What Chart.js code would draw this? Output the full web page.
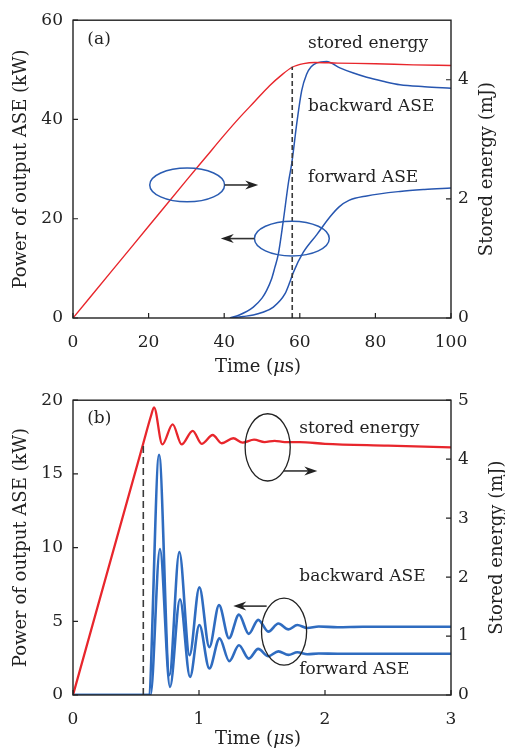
<!DOCTYPE html>
<html>
<head>
<meta charset="utf-8">
<script src="https://cdn.jsdelivr.net/npm/chart.js@4/dist/chart.umd.min.js"></script>
<style>
  body { margin: 0; background: #fff; }
  canvas { display: block; }
</style>
</head>
<body>
<canvas id="chartA" width="505" height="380"></canvas>
<canvas id="chartB" width="505" height="373"></canvas>
<script>
// ---- panel (a): 0-100 us ----
const timeTicksA = [0, 20, 40, 60, 80, 100];
const powerTicksA = [0, 20, 40, 60];
const energyTicksA = [0, 2, 4];

const storedTimeA = [0, 10, 20, 30, 35, 40, 44, 48, 52, 55, 58, 61, 64, 70, 80, 90, 100];
const storedEnergyA = [0, 0.77, 1.54, 2.31, 2.69, 3.07, 3.36, 3.63, 3.90, 4.07, 4.21, 4.27, 4.29, 4.28, 4.27, 4.25, 4.24];

const backwardTimeA = [41.5, 44, 47.7, 50, 51.2, 52.5, 53.4, 54.3, 55.6, 57.0, 57.9, 59.2, 60.5, 61.8, 63, 64.5, 67.1, 70.6, 74, 77.7, 82, 86.5, 93, 100];
const backwardPowerA = [0, 0.6, 2.2, 4.0, 5.5, 7.8, 10.2, 12.8, 19.4, 27.3, 31.3, 39.2, 45.8, 49.1, 50.6, 51.4, 51.7, 50.4, 49.4, 48.5, 47.7, 47.0, 46.6, 46.3];

const forwardTimeA = [42, 45, 47.7, 50, 53.0, 56.1, 57.4, 58.3, 60.9, 64.5, 68.0, 70.4, 73.0, 77.7, 86.5, 93, 100];
const forwardPowerA = [0, 0.3, 0.6, 1.1, 2.2, 4.9, 7.3, 9.2, 13.2, 16.8, 20.4, 22.4, 23.7, 24.6, 25.5, 25.9, 26.2];

const markerTimeA = [58, 58];
const markerEnergyA = [0, 4.22];

// ---- panel (b): 0-3 us ----
const timeTicksB = [0, 1, 2, 3];
const powerTicksB = [0, 5, 10, 15, 20];
const energyTicksB = [0, 1, 2, 3, 4, 5];

const storedTimeB = [0, 0.558, 0.62, 0.643, 0.709, 0.791, 0.862, 0.95, 1.021, 1.109, 1.18, 1.272, 1.346, 1.437, 1.52, 1.60, 1.68, 1.8, 2.0, 2.5, 3.0];
const storedEnergyB = [0, 4.27, 4.74, 4.88, 4.25, 4.59, 4.25, 4.48, 4.26, 4.41, 4.27, 4.355, 4.28, 4.33, 4.29, 4.31, 4.29, 4.29, 4.26, 4.23, 4.20];

const backwardTimeB = [0, 0.6, 0.683, 0.765, 0.844, 0.925, 1.003, 1.082, 1.159, 1.238, 1.317, 1.395, 1.47, 1.55, 1.63, 1.71, 1.78, 1.86, 1.95, 2.1, 2.3, 3.0];
const backwardPowerB = [0, 0, 16.3, 1.35, 9.7, 2.7, 7.3, 3.25, 6.1, 3.85, 5.45, 4.15, 5.1, 4.3, 4.85, 4.45, 4.75, 4.55, 4.65, 4.6, 4.63, 4.63];

const forwardTimeB = [0, 0.615, 0.69, 0.77, 0.849, 0.929, 1.003, 1.082, 1.163, 1.24, 1.317, 1.395, 1.47, 1.55, 1.63, 1.71, 1.78, 1.86, 1.95, 2.1, 3.0];
const forwardPowerB = [0, 0, 9.9, 0.55, 6.5, 1.23, 4.75, 1.8, 3.84, 2.3, 3.38, 2.47, 3.13, 2.63, 2.96, 2.72, 2.9, 2.76, 2.82, 2.80, 2.80];

const markerTimeB = [0.558, 0.558];
const markerEnergyB = [0, 4.27];

const FONT = 'DejaVu Serif';
const INK = '#222';
const RED = '#e8262c';

Chart.defaults.font.family = FONT;
Chart.defaults.font.size = 17;
Chart.defaults.color = INK;

const pairs = (xs, ys) => xs.map((x, i) => ({ x: x, y: ys[i] }));

function curve(xs, ys, color, width, axis) {
    return {
        data: pairs(xs, ys),
        borderColor: color,
        borderWidth: width,
        yAxisID: axis,
        pointRadius: 0,
        cubicInterpolationMode: 'monotone',
        borderJoinStyle: 'round',
        fill: false
    };
}

function marker(xs, ys, dash) {
    return {
        data: pairs(xs, ys),
        borderColor: '#3a3a3a',
        borderWidth: 1.6,
        borderDash: dash,
        yAxisID: 'y2',
        pointRadius: 0
    };
}

function fixedTicks(values) {
    return s => { s.ticks = values.map(v => ({ value: v })); };
}

function axis(pos, min, max, ticks, size, pad) {
    const sc = {
        type: 'linear',
        position: pos,
        min: min,
        max: max,
        afterBuildTicks: fixedTicks(ticks),
        grid: { display: false, drawTicks: false },
        border: { display: false },
        ticks: { padding: pad, maxRotation: 0, autoSkip: false }
    };
    if (pos === 'bottom') sc.afterFit = s => { s.height = size; };
    else sc.afterFit = s => { s.width = size; };
    return sc;
}

// frame, inward ticks, axis titles and annotations
const decorations = {
    id: 'decorations',
    afterDraw(chart, args, o) {
        const { ctx, chartArea: a, scales } = chart;
        const X = scales.x, Y = scales.y;
        ctx.save();
        ctx.strokeStyle = INK;
        ctx.lineWidth = 1.4;
        ctx.strokeRect(a.left, a.top, a.right - a.left, a.bottom - a.top);

        ctx.lineWidth = 1.2;
        ctx.beginPath();
        X.ticks.forEach(t => {
            const px = X.getPixelForValue(t.value);
            ctx.moveTo(px, a.bottom); ctx.lineTo(px, a.bottom - 5);
        });
        Y.ticks.forEach(t => {
            const py = Y.getPixelForValue(t.value);
            ctx.moveTo(a.left, py); ctx.lineTo(a.left + 5, py);
        });
        scales.y2.ticks.forEach(t => {
            const py = scales.y2.getPixelForValue(t.value);
            ctx.moveTo(a.right, py); ctx.lineTo(a.right - 5, py);
        });
        ctx.stroke();

        // axis titles
        ctx.fillStyle = INK;
        ctx.font = '18px "' + FONT + '"';
        ctx.textBaseline = 'middle';
        ctx.textAlign = 'center';
        const midY = (a.top + a.bottom) / 2;
        ctx.save();
        ctx.translate(21.7, midY);
        ctx.rotate(-Math.PI / 2);
        ctx.fillText('Power of output ASE (kW)', 0, 0);
        ctx.restore();
        ctx.save();
        ctx.translate(o.rightTitleX, midY);
        ctx.rotate(-Math.PI / 2);
        ctx.fillText('Stored energy (mJ)', 0, 0);
        ctx.restore();

        // Time (μs) with italic mu
        const parts = [['Time (', ''], ['\u03bc', 'italic '], ['s)', '']];
        let total = 0;
        parts.forEach(p => { ctx.font = p[1] + '18px "' + FONT + '"'; total += ctx.measureText(p[0]).width; });
        let tx = (a.left + a.right) / 2 - 4 - total / 2;
        ctx.textAlign = 'left';
        parts.forEach(p => {
            ctx.font = p[1] + '18px "' + FONT + '"';
            ctx.fillText(p[0], tx, a.bottom + o.timeTitleOffset);
            tx += ctx.measureText(p[0]).width;
        });

        // text labels
        ctx.font = '17px "' + FONT + '"';
        o.labels.forEach(l => {
            ctx.fillText(l.text, X.getPixelForValue(l.x), Y.getPixelForValue(l.y));
        });

        // ellipses
        ctx.strokeStyle = o.ringColor;
        ctx.lineWidth = o.ringWidth;
        o.rings.forEach(r => {
            const cx = X.getPixelForValue(r.x), cy = Y.getPixelForValue(r.y);
            const rx = Math.abs(X.getPixelForValue(r.x + r.rx) - cx);
            const ry = Math.abs(Y.getPixelForValue(r.y + r.ry) - cy);
            ctx.beginPath();
            ctx.ellipse(cx, cy, rx, ry, 0, 0, Math.PI * 2);
            ctx.stroke();
        });

        // arrows
        o.arrows.forEach(ar => {
            const x0 = X.getPixelForValue(ar.from), x1 = X.getPixelForValue(ar.to);
            const y = Y.getPixelForValue(ar.y);
            const dir = Math.sign(x1 - x0);
            ctx.strokeStyle = '#333';
            ctx.fillStyle = '#222';
            ctx.lineWidth = 1.6;
            ctx.beginPath();
            ctx.moveTo(x0, y); ctx.lineTo(x1 - dir * 6, y);
            ctx.stroke();
            ctx.beginPath();
            ctx.moveTo(x1, y);
            ctx.lineTo(x1 - dir * 13, y - 4.5);
            ctx.lineTo(x1 - dir * 9, y);
            ctx.lineTo(x1 - dir * 13, y + 4.5);
            ctx.closePath();
            ctx.fill();
        });
        ctx.restore();
    }
};

new Chart(document.getElementById('chartA'), {
    type: 'line',
    data: {
        datasets: [
            marker(markerTimeA, markerEnergyA, [5, 3]),
            curve(storedTimeA, storedEnergyA, RED, 1.4, 'y2'),
            curve(backwardTimeA, backwardPowerA, '#2756b0', 1.5, 'y'),
            curve(forwardTimeA, forwardPowerA, '#2756b0', 1.5, 'y')
        ]
    },
    options: {
        responsive: false,
        animation: false,
        layout: { padding: { top: 15, left: 0, right: 0, bottom: 0 } },
        plugins: {
            legend: { display: false },
            tooltip: { enabled: false },
            decorations: {
                rightTitleX: 487,
                timeTitleOffset: 49,
                ringColor: '#2a5cb2',
                ringWidth: 1.5,
                labels: [
                    { text: '(a)', x: 3.8, y: 56.0 },
                    { text: 'stored energy', x: 62.2, y: 55.2 },
                    { text: 'backward ASE', x: 62.2, y: 42.6 },
                    { text: 'forward ASE', x: 62.2, y: 28.3 }
                ],
                rings: [
                    { x: 30.2, y: 26.8, rx: 9.9, ry: 3.4 },
                    { x: 57.9, y: 16.0, rx: 9.9, ry: 3.5 }
                ],
                arrows: [
                    { from: 40.1, to: 49.0, y: 26.8 },
                    { from: 48.0, to: 39.1, y: 16.0 }
                ]
            }
        },
        scales: {
            x: axis('bottom', 0, 100, timeTicksA, 62, 14),
            y: axis('left', 0, 60, powerTicksA, 73, 10),
            y2: axis('right', 0, 5, energyTicksA, 54, 7)
        }
    },
    plugins: [decorations]
});

new Chart(document.getElementById('chartB'), {
    type: 'line',
    data: {
        datasets: [
            marker(markerTimeB, markerEnergyB, [7, 4]),
            curve(storedTimeB, storedEnergyB, RED, 2.3, 'y2'),
            curve(backwardTimeB, backwardPowerB, '#2f6cc0', 2.6, 'y'),
            curve(forwardTimeB, forwardPowerB, '#2f6cc0', 2.6, 'y')
        ]
    },
    options: {
        responsive: false,
        animation: false,
        layout: { padding: { top: 13, left: 0, right: 0, bottom: 0 } },
        plugins: {
            legend: { display: false },
            tooltip: { enabled: false },
            decorations: {
                rightTitleX: 497,
                timeTitleOffset: 44,
                ringColor: '#222',
                ringWidth: 1.3,
                labels: [
                    { text: '(b)', x: 0.113, y: 18.76 },
                    { text: 'stored energy', x: 1.796, y: 18.1 },
                    { text: 'backward ASE', x: 1.796, y: 8.06 },
                    { text: 'forward ASE', x: 1.796, y: 1.70 }
                ],
                rings: [
                    { x: 1.545, y: 16.8, rx: 0.179, ry: 2.28 },
                    { x: 1.675, y: 4.30, rx: 0.179, ry: 2.27 }
                ],
                arrows: [
                    { from: 1.669, to: 1.939, y: 15.2 },
                    { from: 1.537, to: 1.272, y: 6.03 }
                ]
            }
        },
        scales: {
            x: axis('bottom', 0, 3, timeTicksB, 58, 14),
            y: axis('left', 0, 20, powerTicksB, 73, 10),
            y2: axis('right', 0, 5, energyTicksB, 54, 7)
        }
    },
    plugins: [decorations]
});
</script>
</body>
</html>
